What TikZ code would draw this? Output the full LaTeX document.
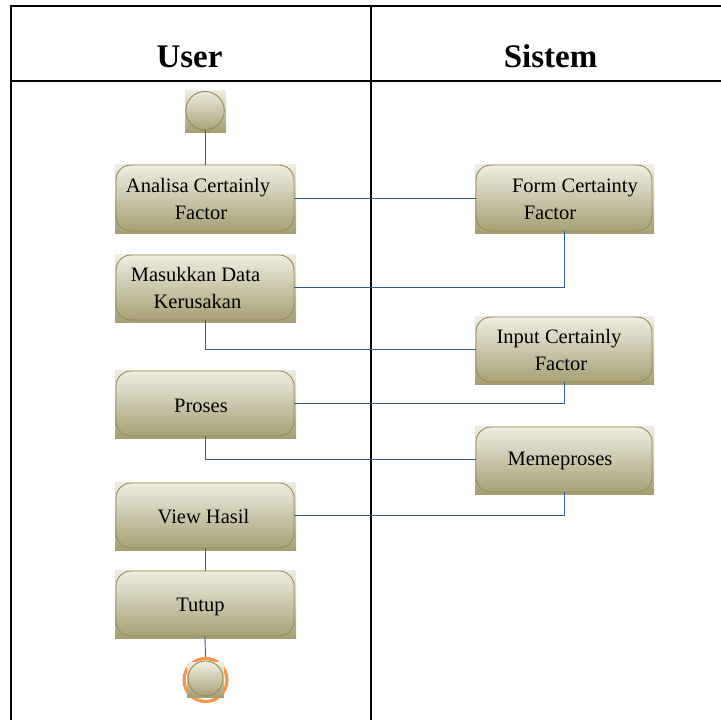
\documentclass[tikz,border=0pt]{standalone}
\usepackage{fontspec}
\setmainfont{Liberation Serif}
\definecolor{gtop}{RGB}{240,238,228}
\definecolor{gbot}{RGB}{165,158,114}
\definecolor{olive}{RGB}{150,138,84}
\definecolor{conn}{RGB}{50,92,152}
\definecolor{ring}{RGB}{247,150,70}
\tikzset{
  lane/.style={line width=1.4pt, black},
  boxline/.style={draw=olive, line width=0.9pt, rounded corners=15pt, inner sep=0pt},
  shadebg/.style={top color=gtop, bottom color=gbot},
  txt/.style={font=\fontsize{20.5}{27}\selectfont, align=center, inner sep=0pt},
  hdr/.style={font=\fontsize{33}{38}\selectfont\bfseries, anchor=base, inner sep=0pt},
  flow/.style={draw=conn, line width=0.9pt},
}
\usetikzlibrary{fit}
% \abox{name}{x1}{y1}{x2}{y2}
\newcommand{\abox}[5]{%
  \shade[shadebg] (#2,#3) rectangle (#4,#5);
  \path (#2+1,#3+1) coordinate (#1-a) (#4-2,#5-2) coordinate (#1-b);
  \node[boxline, fit=(#1-a)(#1-b)] (#1) {};
}
\begin{document}
\begin{tikzpicture}[x=1pt,y=-1pt]
\useasboundingbox (0,0) rectangle (721,720);
% swimlanes
\draw[lane] (11,720) -- (11,6) -- (721,6);
\draw[lane] (11,81) -- (721,81);
\draw[lane] (371,6) -- (371,720);
\node[hdr] (huser) at (189.5,67) {User};
\node[hdr] (hsis) at (550.5,67) {Sistem};
% start node
\shade[shadebg] (185,90) rectangle (226,132);
\node[circle, draw=olive, line width=0.9pt, minimum size=38.5pt, inner sep=0pt] (start) at (205,110.7) {};
% user boxes
\abox{analisa}{115}{164}{296}{233}
\abox{masuk}{115}{254}{296}{322}
\abox{proses}{115}{370}{296}{438}
\abox{view}{115}{482}{296}{550}
\abox{tutup}{115}{570}{296}{638}
% system boxes
\abox{form}{475}{164}{654}{233}
\abox{input}{475}{316}{654}{384}
\abox{meme}{475}{426}{654}{494}
% texts
\node[txt] (tanalisa) at (205,199) {Analisa Certainly\hspace*{14pt}\\Factor\hspace*{8pt}};
\node[txt] (tmasuk) at (197.5,288) {Masukkan Data\hspace*{4pt}\\Kerusakan};
\node[txt] (tproses) at (201,406) {Proses};
\node[txt] (tview) at (203.5,517) {View Hasil};
\node[txt] (ttutup) at (200.5,607) {Tutup};
\node[txt] (tform) at (564,199) {\hspace*{22pt}Form Certainty\\Factor\hspace*{28pt}};
\node[txt] (tinput) at (559,350) {Input Certainly\\\hspace*{4pt}Factor};
\node[txt] (tmeme) at (560,461) {Memeproses};
% end node
\node[circle, draw=ring, line width=3.2pt, minimum size=43pt, inner sep=0pt] (endring) at (205.5,680) {};
\shade[shadebg] (187,662.5) rectangle (224,697);
\node[circle, draw=olive, line width=0.9pt, minimum size=35pt, inner sep=0pt] (end) at (205.5,678.5) {};
% connectors
\draw[flow] (start.south) -- (analisa.north);
\draw[flow] (analisa.east) -- (form.west);
\draw[flow] (form.south) |- (masuk.east);
\draw[flow] (masuk.south) |- (input.west);
\draw[flow] (input.south) |- (proses.east);
\draw[flow] (proses.south) |- (meme.west);
\draw[flow] (meme.south) |- (view.east);
\draw[flow] (view.south) -- (tutup.north);
\draw[flow] (tutup.south) -- (endring.north);
\end{tikzpicture}
\end{document}
